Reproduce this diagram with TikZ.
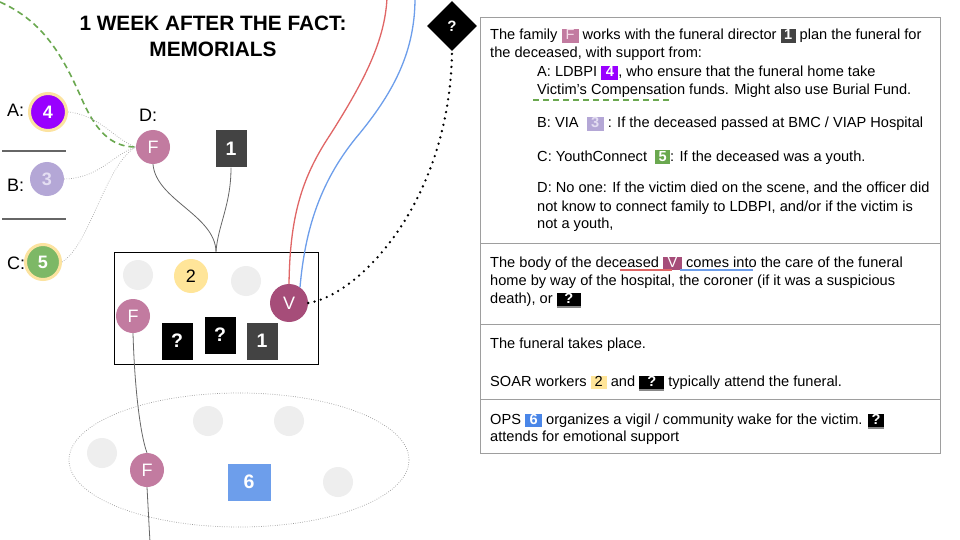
\documentclass[tikz,border=0pt]{standalone}
\usepackage{fontspec}
\setmainfont{Liberation Sans}
\usetikzlibrary{shapes.geometric}
\definecolor{cPurple}{HTML}{9900FF}
\definecolor{cRing}{HTML}{FCE3A0}
\definecolor{cLav}{HTML}{B4A7D6}
\definecolor{cLavT}{HTML}{E4DEF2}
\definecolor{cGreen}{HTML}{6AA84F}
\definecolor{cGreenC}{HTML}{7DB866}
\definecolor{cF}{HTML}{C27BA0}
\definecolor{cFt}{HTML}{F6DDEA}
\definecolor{cV}{HTML}{A64D79}
\definecolor{cGray}{HTML}{EEEEEE}
\definecolor{cYellow}{HTML}{FFE599}
\definecolor{cBlue}{HTML}{6D9EEB}
\definecolor{cBlueT}{HTML}{4A86E8}
\definecolor{cDark}{HTML}{434343}
\definecolor{cRed}{HTML}{E06666}
\definecolor{cBorder}{HTML}{9E9E9E}
\definecolor{cLine}{HTML}{666666}
\definecolor{cUline}{HTML}{888888}
\newcommand{\ibox}[4]{{\setlength{\fboxsep}{0pt}\colorbox{#1}{\rule[-3pt]{0pt}{13.5pt}\makebox[#3]{\textcolor{#2}{#4}}}}}
\newcommand{\qbox}[1]{\rlap{\textcolor{cUline}{\rule[-4.5pt]{#1}{1.3pt}}}\ibox{black}{white}{#1}{\bfseries ?}}
\begin{document}
\begin{tikzpicture}[x=1pt,y=-1pt,
  circ/.style={circle, minimum size=34pt, inner sep=0pt, text=white, font=\fontsize{18}{18}\selectfont},
  ringcirc/.style={circle, minimum size=37pt, inner sep=0pt, draw=cRing, line width=3pt, text=white, font=\bfseries\fontsize{18}{18}\selectfont},
  gcirc/.style={circle, fill=cGray, minimum size=30pt, inner sep=0pt},
  sq/.style={rectangle, minimum width=31pt, minimum height=37pt, inner sep=0pt, text=white, font=\bfseries\fontsize{19.5}{20}\selectfont},
  lbl/.style={anchor=base west, inner sep=0pt, font=\fontsize{18}{18}\selectfont},
  ttl/.style={anchor=base, inner sep=0pt, font=\bfseries\fontsize{20.8}{24}\selectfont},
  txt/.style={anchor=base west, inner sep=0pt, font=\fontsize{14.6}{18}\selectfont},
  thin/.style={draw=cLine, line width=0.8pt},
  gdot/.style={draw=gray!70, line width=0.7pt, dash pattern=on 0.7pt off 1.6pt},
  bdot/.style={draw=black, line width=2.6pt, line cap=round, dash pattern=on 0pt off 6.5pt},
  sep/.style={draw=cBorder, line width=0.8pt}
]
\useasboundingbox (0,0) rectangle (960,540);
\fill[white] (0,0) rectangle (960,540);

% title
\node[ttl] (title1) at (213,31) {1 WEEK AFTER THE FACT:};
\node[ttl] (title2) at (213,57) {MEMORIALS};

% left legend
\node[lbl] (la) at (7,117) {A:};
\node[ringcirc, fill=cPurple] (A) at (48,112) {4};
\draw[draw=cLine, line width=1.5pt] (2,151) -- (66,151);
\node[lbl] (lb) at (7,191) {B:};
\node[circ, fill=cLav, font=\bfseries\fontsize{18}{18}\selectfont, text=cLavT] (B) at (47,179) {3};
\draw[draw=cLine, line width=1.5pt] (2,219) -- (66,219);
\node[lbl] (lc) at (7,269) {C:};
\node[ringcirc, fill=cGreenC, minimum size=35pt] (C) at (43,262) {5};

\node[lbl] (ld) at (139,122) {D:};
\node[circ, fill=cF] (F1) at (153,147) {F};
\node[sq, fill=cDark] (S1) at (231,149) {1};

% funeral home box
\node[draw=black, line width=0.9pt, minimum width=204pt, minimum height=112pt, inner sep=0pt] (box) at (216,308) {};
\node[gcirc] (g1) at (138,275) {};
\node[circ, fill=cYellow, text=black] (Y2) at (191,276) {2};
\node[gcirc] (g2) at (246,281) {};
\node[circ, fill=cV, minimum size=38pt] (V) at (289,303) {V};
\node[circ, fill=cF] (F2) at (133,316) {F};
\node[sq, fill=black] (q1) at (177,341) {?};
\node[sq, fill=black] (q2) at (220,335) {?};
\node[sq, fill=cDark] (S2) at (262,341) {1};

% vigil ellipse
\node[ellipse, draw=gray!80, line width=0.7pt, dash pattern=on 0.7pt off 1.6pt, minimum width=340pt, minimum height=134pt, inner sep=0pt] (ell) at (239,460) {};
\node[gcirc] (g3) at (102,453) {};
\node[gcirc] (g4) at (208,421) {};
\node[gcirc] (g5) at (289,421) {};
\node[gcirc] (g6) at (338,482) {};
\node[circ, fill=cF] (F3) at (147,470) {F};
\node[sq, fill=cBlue, minimum width=43pt] (S6) at (249,482) {6};

% diamond
\node[diamond, fill=black, minimum size=50pt, inner sep=0pt, text=white, font=\bfseries\fontsize{15}{15}\selectfont] (dq) at (452,26) {?};

% connectors
\coordinate (gstart) at (0,2);
\draw[draw=cGreen, line width=1.6pt, dash pattern=on 6pt off 4pt] (gstart) .. controls (40,20) and (60,50) .. (80,95) .. controls (95,130) and (110,147) .. (F1.west);
\draw[gdot] (A.east) .. controls (100,115) and (115,140) .. (F1.west);
\draw[gdot] (B.east) .. controls (100,178) and (112,155) .. (F1.west);
\draw[gdot] (C.east) .. controls (90,245) and (105,165) .. (F1.west);

\draw[thin] (F1.south) .. controls (156,200) and (215,215) .. (box.north);
\draw[thin] (S1.south) .. controls (231,205) and (218,225) .. (box.north);

\coordinate (rtop) at (387,-2);
\coordinate (btop) at (415,-2);
\draw[draw=cRed, line width=1.3pt] (rtop) .. controls (385,40) and (365,80) .. (330,135) .. controls (300,180) and (290,220) .. (V.north);
\draw[draw=cBlue, line width=1.3pt] (btop) .. controls (415,50) and (395,90) .. (360,133) .. controls (320,180) and (305,230) .. (V.55);
\draw[bdot] (V.east) .. controls (360,295) and (450,200) .. (dq.south);

\coordinate (fend) at (150,542);
\draw[thin] (F2.south) .. controls (135,400) and (142,440) .. (F3.north);
\draw[thin] (F3.south) .. controls (148,505) and (149,525) .. (fend);

% right panel
\node[draw=cBorder, line width=0.8pt, minimum width=460pt, minimum height=436pt, inner sep=0pt, anchor=north west] (panel) at (480,17) {};
\draw[sep] (480,243) -- (940,243);
\draw[sep] (480,324) -- (940,324);
\draw[sep] (480,399) -- (940,399);

\node[txt] (t1) at (490,40) {The family \ibox{cF}{cFt}{17pt}{F} works with the funeral director \ibox{cDark}{white}{15pt}{\bfseries 1} plan the funeral for};
\node[txt] (t2) at (490,58) {the deceased, with support from:};
\node[txt] (t3) at (537,77) {A: LDBPI \ibox{cPurple}{white}{17pt}{\bfseries 4}, who ensure that the funeral home take};
\node[txt] (t4) at (537,95) {Victim’s Compensation funds. Might also use Burial Fund.};
\node[txt] (t5) at (537,128) {B: VIA\ \ \ibox{cLav}{cLavT}{17pt}{\bfseries 3} : If the deceased passed at BMC / VIAP Hospital};
\node[txt] (t6) at (537,161) {C: YouthConnect\ \ \ibox{cGreen}{white}{15pt}{\bfseries 5}: If the deceased was a youth.};
\node[txt] (t7) at (537,193) {D: No one: If the victim died on the scene, and the officer did};
\node[txt] (t8) at (537,211) {not know to connect family to LDBPI, and/or if the victim is};
\node[txt] (t9) at (537,228) {not a youth,};
\draw[draw=cGreen, line width=1.3pt, dash pattern=on 6pt off 4pt] (533,100) -- (672,100);

\node[txt] (t10) at (490,267) {The body of the deceased \ibox{cV}{white}{19pt}{V} comes into the care of the funeral};
\node[txt] (t11) at (490,285) {home by way of the hospital, the coroner (if it was a suspicious};
\node[txt] (t12) at (490,303) {death), or \qbox{24pt}};
\draw[draw=cRed, line width=1.2pt] (620,270) -- (672,270);
\draw[draw=cBlue, line width=1.2pt] (680,270) -- (753,270);

\node[txt] (t13) at (490,348) {The funeral takes place.};
\node[txt] (t14) at (490,386) {SOAR workers \ibox{cYellow}{black}{16pt}{2} and \qbox{25pt} typically attend the funeral.};

\node[txt] (t15) at (490,424) {OPS \ibox{cBlueT}{white}{17pt}{\bfseries 6} organizes a vigil / community wake for the victim. \qbox{16pt}};
\node[txt] (t16) at (490,441) {attends for emotional support};
\end{tikzpicture}
\end{document}
